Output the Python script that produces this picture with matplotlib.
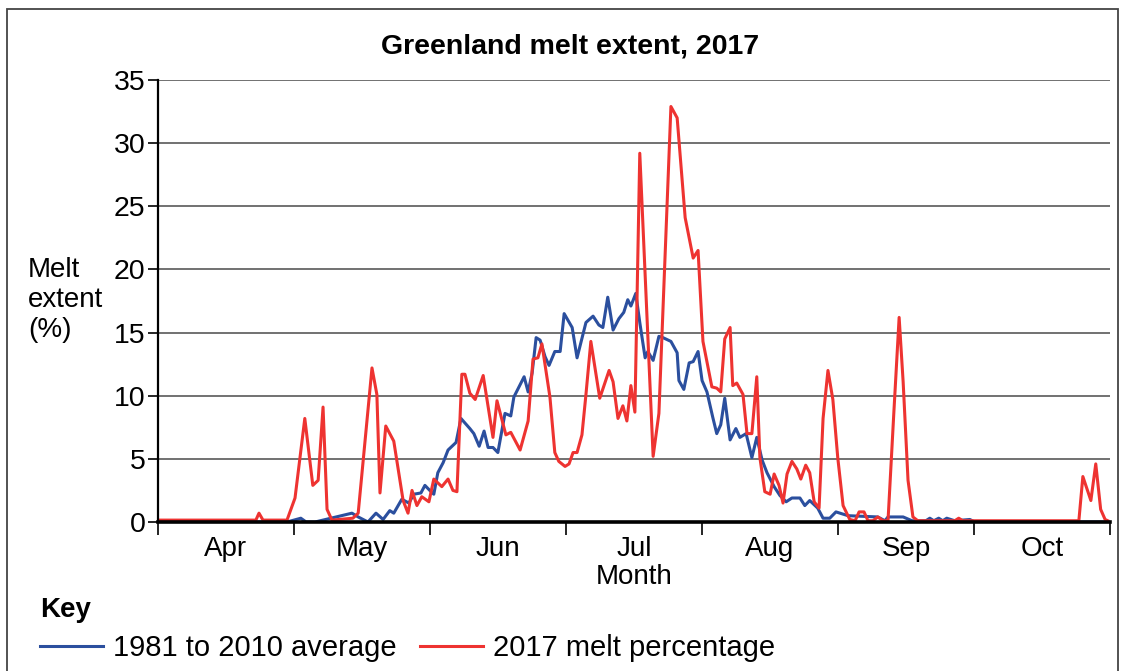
import numpy as np
import matplotlib
matplotlib.use("Agg")
import matplotlib.pyplot as plt
from matplotlib.patches import Rectangle

plt.rcParams['font.family'] = ['Liberation Sans', 'DejaVu Sans']

# Dia de la temporada (0 = 1 de abril) y porcentaje de fusion
dias_2017 = [0.0, 22.0, 22.7, 23.6, 29.0, 30.8, 33.0, 34.8, 36.0, 37.1, 38.0, 39.1,
             43.8, 45.0, 48.1, 49.2, 49.9, 51.2, 53.0, 55.1, 56.2, 57.1, 58.2, 59.3,
             60.9, 62.0, 63.8, 65.2, 66.3, 67.2, 68.3, 69.0, 70.1, 71.3, 73.1, 75.3,
             76.2, 78.2, 79.3, 81.4, 83.2, 84.3, 85.4, 86.3, 88.1, 89.2, 90.1, 91.5,
             92.4, 93.3, 94.2, 95.3, 96.2, 97.3, 99.3, 101.4, 102.3, 103.4, 104.5,
             105.4, 106.3, 107.2, 108.3, 111.3, 112.6, 115.3, 116.7, 118.5, 120.3,
             121.4, 122.5, 124.5, 125.6, 126.5, 127.4, 128.6, 129.2, 130.1, 131.5,
             132.4, 133.5, 134.6, 135.3, 136.4, 137.6, 138.5, 139.6, 140.5, 141.4,
             142.5, 143.6, 144.5, 145.6, 146.5, 147.5, 148.6, 149.5, 150.6, 151.7,
             152.8, 154.0, 155.5, 156.7, 157.6, 158.7, 159.6, 160.7, 161.8, 163.0,
             164.1, 165.4, 166.6, 167.5, 168.6, 169.7, 170.8, 179.1, 180.0, 180.9,
             207.0, 207.9, 209.7, 210.8, 211.9, 212.9, 213.5]
melt_2017 = [0.15, 0.15, 0.7, 0.15, 0.15, 1.9, 8.2, 2.9, 3.3, 9.1, 1.0, 0.15,
             0.3, 0.7, 12.2, 10.1, 2.3, 7.6, 6.4, 1.7, 0.7, 2.5, 1.3, 2.0,
             1.6, 3.4, 2.8, 3.4, 2.5, 2.4, 11.7, 11.7, 10.2, 9.7, 11.6, 6.7,
             9.6, 6.9, 7.1, 5.7, 8.0, 12.9, 13.0, 14.1, 9.9, 5.5, 4.8, 4.4,
             4.6, 5.5, 5.5, 6.9, 10.1, 14.3, 9.8, 12.0, 11.1, 8.2, 9.2,
             8.0, 10.8, 8.7, 29.2, 5.2, 8.6, 32.9, 32.0, 24.1, 20.9,
             21.5, 14.3, 10.7, 10.6, 10.3, 14.5, 15.4, 10.8, 11.0, 10.1,
             7.0, 7.0, 11.5, 5.1, 2.4, 2.2, 3.8, 2.9, 1.5, 3.8,
             4.8, 4.2, 3.4, 4.5, 3.9, 1.6, 1.1, 8.2, 12.0, 9.7,
             5.1, 1.3, 0.2, 0.1, 0.8, 0.8, 0.1, 0.1, 0.4, 0.1,
             0.1, 8.6, 16.2, 11.1, 3.3, 0.4, 0.1, 0.1, 0.3, 0.1,
             0.1, 3.6, 1.7, 4.6, 1.0, 0.2, 0.1]

dias_prom = [0.0, 29.0, 32.1, 33.3, 35.3, 43.6, 45.0, 47.2, 49.0, 50.6, 52.1, 53.0,
             54.8, 56.4, 57.5, 59.1, 60.0, 61.1, 62.0, 62.9, 64.1, 65.2, 67.0, 68.1,
             70.1, 71.0, 72.2, 73.3, 74.2, 75.3, 76.4, 78.0, 79.3, 80.0, 82.3, 83.2,
             84.1, 85.0, 85.9, 87.0, 87.9, 89.2, 90.4, 91.3, 93.1, 94.2, 96.2, 97.8,
             99.1, 100.0, 101.1, 102.3, 103.6, 104.7, 105.6, 106.3, 107.4, 108.3,
             109.5, 110.1, 111.3, 112.6, 113.5, 115.3, 116.7, 117.1, 118.2, 119.4,
             120.3, 121.4, 122.3, 123.4, 124.7, 125.6, 126.5, 127.4, 128.6, 129.9,
             130.8, 132.2, 133.5, 134.6, 135.8, 136.9, 138.5, 139.8, 141.2, 142.5,
             144.3, 145.4, 146.5, 148.3, 149.5, 151.0, 152.4, 155.1, 161.8, 163.4,
             164.1, 167.5, 169.5, 172.6, 173.5, 174.4, 175.5, 176.4, 177.3, 179.1,
             182.5, 183.6, 214.0]
melt_prom = [0.0, 0.0, 0.3, 0.0, 0.0, 0.7, 0.4, 0.0, 0.7, 0.2, 0.9, 0.7,
             1.8, 1.5, 2.2, 2.3, 2.9, 2.5, 2.2, 3.9, 4.7, 5.7, 6.3, 8.2,
             7.4, 7.0, 6.0, 7.2, 5.9, 5.9, 5.5, 8.6, 8.4, 9.9, 11.5, 10.3,
             11.8, 14.6, 14.4, 13.1, 12.4, 13.5, 13.5, 16.5, 15.4, 13.0, 15.8, 16.3,
             15.6, 15.4, 17.8, 15.2, 16.1, 16.6, 17.6, 17.1, 18.1, 15.8,
             13.0, 13.5, 12.8, 14.7, 14.6, 14.3, 13.4, 11.2, 10.5, 12.6,
             12.7, 13.5, 11.2, 10.3, 8.3, 7.0, 7.7, 9.8, 6.5, 7.4,
             6.7, 7.0, 5.1, 6.7, 4.9, 3.9, 2.8, 2.1, 1.6, 1.9,
             1.9, 1.3, 1.7, 1.1, 0.3, 0.3, 0.8, 0.5, 0.4, 0.1,
             0.4, 0.4, 0.1, 0.1, 0.3, 0.1, 0.3, 0.1, 0.3, 0.1,
             0.2, 0.0, 0.0]

meses = ['Apr', 'May', 'Jun', 'Jul', 'Aug', 'Sep', 'Oct']
n_dias = 214

color_azul = '#2b4f9e'
color_rojo = '#ee3331'

fig = plt.figure(figsize=(11.24, 6.71), dpi=100)
ax = fig.add_axes([158/1124, 1 - 522/671, (1110 - 158)/1124, (522 - 80)/671])

# lineas de la grilla
ax.set_axisbelow(True)
ax.yaxis.grid(True, color='#4a4a4a', linewidth=1.1)

ax.plot(dias_prom, melt_prom, color=color_azul, linewidth=2.2, label='1981 to 2010 average')
ax.plot(dias_2017, melt_2017, color=color_rojo, linewidth=2.2, label='2017 melt percentage')

ax.set_xlim(0, n_dias)
ax.set_ylim(0, 35)
ax.set_yticks(np.arange(0, 36, 5))

# marcas en el borde de cada mes, etiquetas en el centro
bordes = np.linspace(0, n_dias, len(meses) + 1)
centros = (bordes[:-1] + bordes[1:]) / 2
ax.set_xticks(bordes)
ax.set_xticklabels([])
ax.set_xticks(centros, minor=True)
ax.set_xticklabels(meses, minor=True)
ax.tick_params(axis='x', which='major', length=9, width=1.2, direction='out')
ax.tick_params(axis='x', which='minor', length=0, labelsize=20, pad=10)
ax.tick_params(axis='y', length=7, width=1.2, labelsize=20.5, pad=2)

ax.spines['top'].set_visible(False)
ax.spines['right'].set_visible(False)
ax.spines['left'].set_linewidth(1.6)
ax.spines['bottom'].set_linewidth(2.6)

fig.text(570/1124, 1 - 46/671, 'Greenland melt extent, 2017', ha='center', va='center',
         fontsize=20.5, fontweight='bold')
fig.text(28/1124, 1 - 300/671, 'Melt\nextent\n(%)', ha='left', va='center',
         fontsize=20, linespacing=1.2)
fig.text(634/1124, 1 - 577/671, 'Month', ha='center', va='center', fontsize=20)
fig.text(40/1124, 1 - 610/671, 'Key', ha='left', va='center', fontsize=20, fontweight='bold')

manejadores, etiquetas = ax.get_legend_handles_labels()
fig.legend(manejadores, etiquetas, loc='center left', bbox_to_anchor=(40/1124, 1 - 648/671),
           ncol=2, frameon=False, fontsize=21, handlelength=2.15, handletextpad=0.35,
           columnspacing=0.8, borderpad=0, borderaxespad=0)

# marco alrededor de la figura
fig.add_artist(Rectangle((7/1124, -0.05), (1118 - 7)/1124, 1.05 - 9/671,
                         transform=fig.transFigure, fill=False, edgecolor='#444444',
                         linewidth=1.3))

fig.savefig('out.png', dpi=100)
